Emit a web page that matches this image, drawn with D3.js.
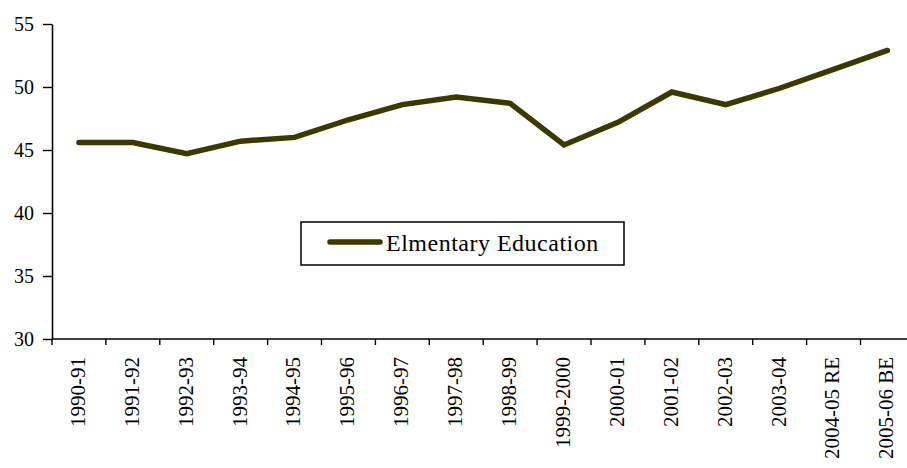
<!DOCTYPE html>
<html>
<head>
<meta charset="utf-8">
<script src="https://cdn.jsdelivr.net/npm/d3@7"></script>
<style>
  html, body { margin: 0; padding: 0; background: #fff; overflow: hidden; }
  svg { display: block; }
</style>
</head>
<body>
<svg id="chart" width="907" height="468"></svg>
<script>
// Share of elementary education, by year
const years = ["1990-91","1991-92","1992-93","1993-94","1994-95","1995-96","1996-97","1997-98",
               "1998-99","1999-2000","2000-01","2001-02","2002-03","2003-04","2004-05 RE","2005-06 BE"];
const elementary = [45.6, 45.6, 44.7, 45.7, 46.0, 47.4, 48.6, 49.2,
                    48.7, 45.4, 47.2, 49.6, 48.6, 49.9, 51.4, 52.9];
const yTicks = [30, 35, 40, 45, 50, 55];
const seriesName = "Elmentary Education";

const serif = "'Liberation Serif', 'Times New Roman', Times, serif";
const svg = d3.select("#chart").attr("font-family", serif);
const plotLeft = 52, plotTop = 24, plotBottom = 339, bandW = 53.9;

const x = d3.scaleBand().domain(years).range([plotLeft, plotLeft + bandW * years.length]).padding(0);
const y = d3.scaleLinear().domain([30, 55]).range([plotBottom, plotTop]);

const lineColor = "#3b3800";

// y axis
const yAxis = svg.append("g")
  .attr("transform", `translate(${plotLeft},0)`)
  .call(d3.axisLeft(y).tickValues(yTicks).tickSize(9).tickSizeOuter(0).tickPadding(9));
yAxis.attr("font-family", serif).attr("font-size", 20);
yAxis.select(".domain").attr("stroke", "#000").attr("stroke-width", 1.6);
yAxis.selectAll(".tick line").attr("stroke", "#000").attr("stroke-width", 1.4);
yAxis.selectAll(".tick text").attr("fill", "#000");

// x axis: ticks at category boundaries
const xAxis = svg.append("g").attr("transform", `translate(0,${plotBottom})`);
xAxis.append("line")
  .attr("x1", plotLeft).attr("x2", x.range()[1])
  .attr("stroke", "#000").attr("stroke-width", 1.6);
xAxis.selectAll("line.tk")
  .data(years)
  .join("line").attr("class", "tk")
  .attr("x1", d => x(d))
  .attr("x2", d => x(d))
  .attr("y1", 0).attr("y2", 6)
  .attr("stroke", "#000").attr("stroke-width", 1.4);
xAxis.selectAll("text")
  .data(years)
  .join("text")
  .attr("transform", d => `translate(${x(d) + x.bandwidth() / 2 - 1.5},18) rotate(-90)`)
  .attr("text-anchor", "end")
  .attr("dy", "0.35em")
  .attr("font-family", serif)
  .attr("font-size", 21)
  .attr("fill", "#000")
  .text(d => d);

// series line
const line = d3.line()
  .x((d, i) => x(years[i]) + x.bandwidth() / 2)
  .y(d => y(d));
svg.append("path")
  .datum(elementary)
  .attr("d", line)
  .attr("fill", "none")
  .attr("stroke", lineColor)
  .attr("stroke-width", 5.5)
  .attr("stroke-linejoin", "miter")
  .attr("stroke-linecap", "round");

// legend
const lg = svg.append("g").attr("transform", "translate(301,222)");
lg.append("rect")
  .attr("width", 323).attr("height", 43)
  .attr("fill", "#fff").attr("stroke", "#000").attr("stroke-width", 1.5);
lg.append("line")
  .attr("x1", 29).attr("x2", 79).attr("y1", 20).attr("y2", 20)
  .attr("stroke", lineColor).attr("stroke-width", 5.5).attr("stroke-linecap", "round");
lg.append("text")
  .attr("x", 85).attr("y", 20.5).attr("dy", "0.35em")
  .attr("font-family", serif)
  .attr("font-size", 24)
  .attr("letter-spacing", 0.5)
  .attr("fill", "#000")
  .text(seriesName);
</script>
</body>
</html>
